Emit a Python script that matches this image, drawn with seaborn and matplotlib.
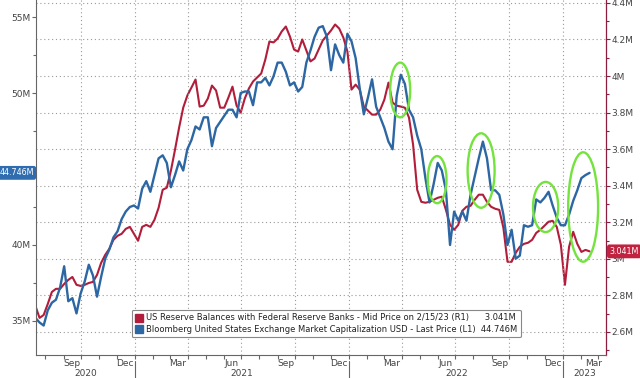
import pandas as pd
import seaborn as sns
import matplotlib.pyplot as plt
import matplotlib.dates as mdates
from matplotlib.patches import Ellipse
from matplotlib.lines import Line2D
from matplotlib.ticker import FuncFormatter, MultipleLocator, FixedLocator

# --- datos (semanales, miércoles) ---
inicio, fin = "2020-07-15", "2023-02-15"
fechas = pd.date_range(inicio, fin, freq="7D")

# Bloomberg US Exchange Market Cap (L1), millones
mercado = [
    35.2, 34.9, 34.7, 35.7, 36.2, 36.4, 37.2, 38.6, 36.3, 36.5,
    35.5, 36.8, 37.6, 38.7, 38.0, 36.6, 37.9, 39.1, 39.7, 40.5,
    40.9, 41.7, 42.2, 42.5, 42.6, 42.4, 43.7, 44.2, 43.5, 44.6,
    45.7, 45.9, 45.4, 43.8, 44.6, 45.5, 44.9, 46.3, 46.9, 47.8,
    47.6, 48.4, 48.4, 46.5, 47.7, 48.1, 48.5, 48.9, 48.9, 48.4,
    50.0, 50.1, 50.1, 49.2, 50.7, 50.7, 51.0, 50.5, 51.1, 52.0,
    52.0, 51.4, 50.5, 50.7, 50.1, 50.4, 52.0, 52.8, 53.7, 54.3,
    54.4, 53.7, 51.5, 53.2, 52.5, 52.0, 53.9, 53.4, 52.3, 50.3,
    48.6, 49.7, 50.9, 49.1, 48.4, 47.7, 46.8, 46.3, 49.8, 51.2,
    50.6, 48.9, 48.4, 47.2, 46.3, 44.4, 42.8, 44.0, 45.4, 44.9,
    43.6, 40.0, 42.2, 41.6, 42.2, 41.6, 43.3, 44.5, 45.7, 46.8,
    45.7, 43.6, 43.6, 43.3, 42.0, 40.0, 41.0, 39.1, 39.3, 41.3,
    41.2, 41.3, 43.0, 42.8, 43.1, 43.5, 42.6, 41.8, 41.3, 41.3,
    42.0, 42.9, 43.6, 44.4, 44.6, 44.746,
]

# US Reserve Balances with Federal Reserve Banks (R1), millones
reservas = [
    2.742, 2.677, 2.693, 2.753, 2.819, 2.836, 2.836, 2.863, 2.885, 2.901,
    2.858, 2.852, 2.858, 2.868, 2.874, 2.912, 2.978, 3.022, 3.055, 3.104,
    3.126, 3.137, 3.164, 3.175, 3.137, 3.099, 3.175, 3.186, 3.175, 3.214,
    3.279, 3.378, 3.389, 3.482, 3.597, 3.718, 3.827, 3.893, 3.937, 3.981,
    3.833, 3.838, 3.877, 3.948, 3.921, 3.827, 3.827, 3.882, 3.942, 3.838,
    3.800, 3.877, 3.932, 3.970, 3.992, 4.014, 4.090, 4.189, 4.184, 4.205,
    4.244, 4.271, 4.216, 4.145, 4.134, 4.200, 4.140, 4.080, 4.096, 4.145,
    4.195, 4.222, 4.249, 4.282, 4.260, 4.211, 4.134, 3.926, 3.953, 3.926,
    3.833, 3.811, 3.789, 3.789, 3.816, 3.871, 3.964, 3.855, 3.838, 3.833,
    3.827, 3.773, 3.625, 3.378, 3.312, 3.307, 3.312, 3.323, 3.334, 3.340,
    3.268, 3.186, 3.159, 3.186, 3.263, 3.285, 3.290, 3.323, 3.351, 3.351,
    3.312, 3.285, 3.274, 3.268, 3.170, 2.984, 2.984, 3.033, 3.066, 3.082,
    3.088, 3.104, 3.142, 3.159, 3.181, 3.203, 3.208, 3.175, 3.077, 2.858,
    3.066, 3.148, 3.082, 3.038, 3.049, 3.041,
]

ultimo_mercado = "44.746M"
ultimo_reservas = "3.041M"
etiqueta_reservas = "US Reserve Balances with Federal Reserve Banks - Mid Price on 2/15/23 (R1)"
etiqueta_mercado = "Bloomberg United States Exchange Market Capitalization USD - Last Price (L1)"

# etiquetas del eje x
meses = ["Sep", "Dec", "Mar", "Jun", "Sep", "Dec", "Mar", "Jun", "Sep", "Dec", "Mar"]
fechas_meses = ["2020-09-15", "2020-12-15", "2021-03-15", "2021-06-15", "2021-09-15",
                "2021-12-15", "2022-03-15", "2022-06-15", "2022-09-15", "2022-12-15",
                "2023-02-22"]
anios = ["2020", "2021", "2022", "2023"]

# elipses verdes: (centro fecha, centro L1, ancho en días, alto en M)
elipses = [
    ("2022-03-29", 50.2, 34, 3.6),
    ("2022-05-31", 44.3, 32, 3.1),
    ("2022-08-14", 44.9, 46, 4.9),
    ("2022-12-02", 42.5, 43, 3.3),
    ("2023-02-04", 42.5, 51, 7.2),
]

AZUL = "#2c67a3"
ROJO = "#b11d3a"
VERDE = "#74e33e"
GRIS = "#444444"

# --- figura ---
sns.set_theme(style="white")
plt.rcParams['font.family'] = ['DejaVu Sans']

fig = plt.figure(figsize=(6.4, 3.78), dpi=100)
ax = fig.add_axes([0.0563, 0.0608, 0.8906, 0.9392])
ax2 = ax.twinx()
ax.set_zorder(ax2.get_zorder() + 1)
ax.patch.set_visible(False)

df = pd.DataFrame({"fecha": fechas, "mercado": mercado, "reservas": reservas})
sns.lineplot(data=df, x="fecha", y="reservas", ax=ax2, color=ROJO, linewidth=1.5)
sns.lineplot(data=df, x="fecha", y="mercado", ax=ax, color=AZUL, linewidth=1.7)

ax.set_xlim(pd.Timestamp("2020-07-16"), pd.Timestamp("2023-03-15"))
ax.set_ylim(32.76, 56.12)
ax2.set_ylim(2.474, 4.416)
ax.set_xlabel("")
ax.set_ylabel("")
ax2.set_ylabel("")

# ejes y
fmt = FuncFormatter(lambda v, p: f"{v:g}M")
ax.yaxis.set_major_locator(FixedLocator([35, 40, 50, 55]))
ax.yaxis.set_minor_locator(MultipleLocator(2.5))
ax.yaxis.set_major_formatter(fmt)
ax.tick_params(axis="y", which="both", direction="out", length=3, width=0.8,
               color="#666666", labelsize=6.5, labelcolor=GRIS, pad=1, left=True)
ax.tick_params(axis="y", which="minor", length=2)

ax2.yaxis.set_major_locator(MultipleLocator(0.2))
ax2.yaxis.set_minor_locator(MultipleLocator(0.1))
ax2.yaxis.set_major_formatter(fmt)
ax2.tick_params(axis="y", which="both", direction="out", length=3, width=0.8,
                color="#8b1e3f", labelsize=6.5, labelcolor=GRIS, pad=1, right=True)
ax2.tick_params(axis="y", which="minor", length=2)

# eje x
ax.xaxis.set_major_locator(mdates.MonthLocator(bymonth=[1, 4, 7, 10]))
ax.xaxis.set_minor_locator(mdates.MonthLocator())
ax.xaxis.set_major_formatter(plt.NullFormatter())
ax.tick_params(axis="x", which="both", direction="out", length=3, width=0.8,
               color="#666666", bottom=True)

# rejilla punteada
ax.grid(axis="x", which="major", linestyle=(0, (1, 2.5)), color="#9a9a9a", linewidth=0.8)
ax.grid(axis="y", visible=False)
ax2.grid(axis="y", which="major", linestyle=(0, (1, 2.5)), color="#9a9a9a", linewidth=0.8)
ax2.grid(axis="x", visible=False)

for s in ["top", "right"]:
    ax.spines[s].set_visible(False)
for s in ["top", "left", "bottom"]:
    ax2.spines[s].set_visible(False)
ax.spines["left"].set_color("#666666")
ax.spines["bottom"].set_color("#666666")
ax.spines["left"].set_linewidth(0.8)
ax.spines["bottom"].set_linewidth(0.8)
ax2.spines["right"].set_color("#8b1e3f")
ax2.spines["right"].set_linewidth(0.9)

# etiquetas de meses y años
trans = ax.get_xaxis_transform()
for m, f in zip(meses, fechas_meses):
    ax.text(pd.Timestamp(f), -0.012, m, transform=trans, ha="center", va="top",
            fontsize=6.5, color=GRIS, clip_on=False)

x0, x1 = ax.get_xlim()
cortes = [mdates.date2num(pd.Timestamp(f"{a}-01-01")) for a in anios[1:]]
bordes = [x0] + cortes + [x1]
for a, izq, der in zip(anios, bordes[:-1], bordes[1:]):
    ax.text((izq + der) / 2, -0.038, a, transform=trans, ha="center", va="top",
            fontsize=6.5, color=GRIS, clip_on=False)
for c in cortes:
    ax.plot([c, c], [-0.018, -0.07], transform=trans, color="#666666",
            linewidth=0.8, clip_on=False)

# elipses
for f, v, w, h in elipses:
    ax.add_patch(Ellipse((mdates.date2num(pd.Timestamp(f)), v), width=w, height=h,
                         fill=False, edgecolor=VERDE, linewidth=1.7, zorder=6))

# etiquetas de último valor
ax.text(-0.004, mercado[-1], ultimo_mercado, transform=ax.get_yaxis_transform(),
        ha="right", va="center", fontsize=5.8, color="white", clip_on=False,
        bbox=dict(boxstyle="round,pad=0.3", fc="#2f6db0", ec="none"), zorder=10)
ax2.text(1.006, reservas[-1], ultimo_reservas, transform=ax2.get_yaxis_transform(),
         ha="left", va="center", fontsize=5.8, color="white", clip_on=False,
         bbox=dict(boxstyle="round,pad=0.3", fc="#c0223f", ec="none"), zorder=10)

# leyenda
handles = [Line2D([], [], marker="s", linestyle="none", color=ROJO, markersize=6),
           Line2D([], [], marker="s", linestyle="none", color=AZUL, markersize=6)]
labels = [etiqueta_reservas + "      " + ultimo_reservas,
          etiqueta_mercado + "  " + ultimo_mercado]
leg = ax.legend(handles, labels, loc="lower left", bbox_to_anchor=(0.168, 0.05),
                fontsize=6, frameon=True, fancybox=True, framealpha=1,
                handlelength=0.8, handletextpad=0.4, borderpad=0.45,
                labelspacing=0.25, borderaxespad=0)
leg.get_frame().set_edgecolor("#888888")
leg.get_frame().set_linewidth(0.8)
for t in leg.get_texts():
    t.set_color("#222222")

plt.savefig("out.png", dpi=100)
